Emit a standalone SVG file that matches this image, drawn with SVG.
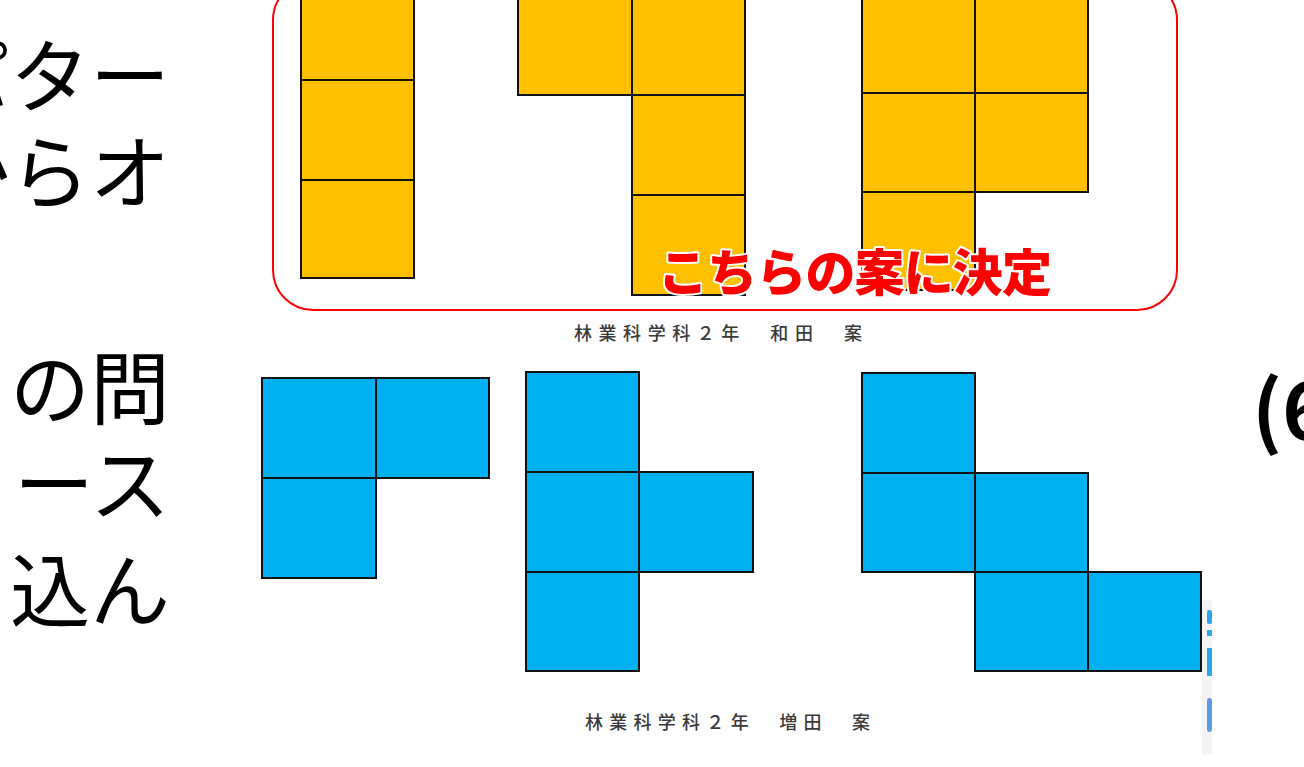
<svg xmlns="http://www.w3.org/2000/svg" width="1304" height="767" viewBox="0 0 1304 767">
<style>
.big{font-family:"Noto Sans CJK JP","Noto Sans",sans-serif;font-size:80px;fill:#000}
.y{fill:#FFC000;stroke:#111;stroke-width:2}
.b{fill:#00B0F0;stroke:#111;stroke-width:2}
.lbl{font-family:"Noto Sans CJK JP",sans-serif;font-size:18px;fill:#3a3a3a;font-weight:500}
.dec{font-family:"Noto Sans CJK JP",sans-serif;font-weight:900;font-size:50px;fill:#FF0000;stroke:#fff;stroke-width:4;paint-order:stroke;stroke-linejoin:round}
</style>
<rect width="1304" height="767" fill="#fff"/>
<g id="left-text">
<text class="big" x="170" y="106" text-anchor="end">パター</text>
<text class="big" x="170" y="202" text-anchor="end">からオ</text>
<text class="big" x="170" y="418" text-anchor="end">の問</text>
<text class="big" x="170" y="514" text-anchor="end">ース</text>
<text class="big" x="170" y="620" text-anchor="end">込ん</text>
</g>
<g id="right-text">
<text class="big" x="1252" y="440" font-size="72" font-weight="bold">(6</text>
</g>
<g id="selected-box">
<rect x="273" y="-20" width="904" height="330" rx="40" fill="none" stroke="#f00" stroke-width="2"/>
</g>
<g id="wada-1">
<rect class="y" x="301" y="-20" width="113" height="100"/>
<rect class="y" x="301" y="80" width="113" height="100"/>
<rect class="y" x="301" y="180" width="113" height="98"/>
</g>
<g id="wada-2">
<rect class="y" x="518" y="-20" width="114" height="115"/>
<rect class="y" x="632" y="-20" width="113" height="115"/>
<rect class="y" x="632" y="95" width="113" height="100"/>
<rect class="y" x="632" y="195" width="113" height="100"/>
</g>
<g id="wada-3">
<rect class="y" x="862" y="-20" width="113" height="113"/>
<rect class="y" x="975" y="-20" width="113" height="113"/>
<rect class="y" x="862" y="93" width="113" height="99"/>
<rect class="y" x="975" y="93" width="113" height="99"/>
<rect class="y" x="862" y="192" width="113" height="98"/>
</g>
<g id="decision">
<text class="dec" x="658" y="291" textLength="394" lengthAdjust="spacing">こちらの案に決定</text>
</g>
<g id="wada-label"><text class="lbl" x="574" y="340" textLength="288" lengthAdjust="spacing">林業科学科２年　和田　案</text></g>
<g id="masuda-1">
<rect class="b" x="262" y="378" width="114" height="100"/>
<rect class="b" x="376" y="378" width="113" height="100"/>
<rect class="b" x="262" y="478" width="114" height="100"/>
</g>
<g id="masuda-2">
<rect class="b" x="526" y="372" width="113" height="100"/>
<rect class="b" x="526" y="472" width="113" height="100"/>
<rect class="b" x="639" y="472" width="114" height="100"/>
<rect class="b" x="526" y="572" width="113" height="99"/>
</g>
<g id="masuda-3">
<rect class="b" x="862" y="373" width="113" height="100"/>
<rect class="b" x="862" y="473" width="113" height="99"/>
<rect class="b" x="975" y="473" width="113" height="99"/>
<rect class="b" x="975" y="572" width="113" height="99"/>
<rect class="b" x="1088" y="572" width="113" height="99"/>
</g>
<g id="masuda-label"><text class="lbl" x="585" y="729" textLength="285" lengthAdjust="spacing">林業科学科２年　増田　案</text></g>
<g id="edge-strip">
<rect x="1202" y="600" width="10" height="155" fill="#f4f4f4"/>
<rect x="1207" y="610" width="5" height="14" rx="2" fill="#2aa6f0"/>
<rect x="1207" y="630" width="5" height="6" fill="#2aa6f0"/>
<rect x="1207" y="648" width="5" height="28" fill="#2aa6f0"/>
<rect x="1207" y="698" width="5" height="34" rx="3" fill="#5b9be0"/>
</g>
</svg>
